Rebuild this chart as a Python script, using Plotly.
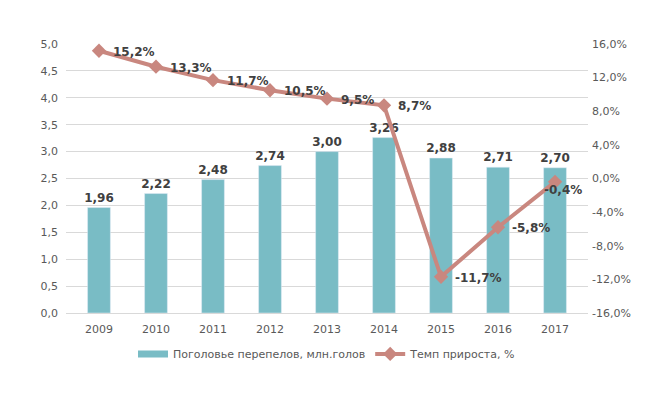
import plotly.graph_objects as go

years = ["2009", "2010", "2011", "2012", "2013", "2014", "2015", "2016", "2017"]
heads = [1.96, 2.22, 2.48, 2.74, 3.00, 3.26, 2.88, 2.71, 2.70]
growth = [15.2, 13.3, 11.7, 10.5, 9.5, 8.7, -11.7, -5.8, -0.4]
left_ticks = [0, 0.5, 1, 1.5, 2, 2.5, 3, 3.5, 4, 4.5, 5]
right_ticks = [-16, -12, -8, -4, 0, 4, 8, 12, 16]

def fmt(v, d):
    return f"{v:.{d}f}".replace(".", ",")

bar_text = [fmt(v, 2) for v in heads]
line_text = [fmt(v, 1) + "%" for v in growth]

BAR = "#79BCC5"
LINE = "#C9877F"
TXT = "#404040"
AX = "#595959"
FONT = "DejaVu Sans"
BAR_NAME = "Поголовье перепелов, млн.голов"

fig = go.Figure()
fig.add_trace(go.Bar(
    x=years, y=heads, name=BAR_NAME, showlegend=False, legendgroup="bars",
    marker_color=BAR, width=0.4,
    text=bar_text, textposition="outside", cliponaxis=False,
    constraintext="none",
    textfont=dict(family=FONT, size=12, color=TXT, weight="bold"),
))
# legend entry drawn as a wide swatch, like the original
fig.add_trace(go.Scatter(
    x=[None], y=[None], name=BAR_NAME, legendgroup="bars", mode="lines",
    line=dict(color=BAR, width=7), hoverinfo="skip",
))
fig.add_trace(go.Scatter(
    x=years, y=growth, name="Темп прироста, %", yaxis="y2",
    mode="lines+markers",
    line=dict(color=LINE, width=4),
    marker=dict(symbol="diamond", size=11, color=LINE),
    cliponaxis=False,
))

for i, (g, t) in enumerate(zip(growth, line_text)):
    last = i == len(years) - 1
    fig.add_annotation(
        x=i, y=g, xref="x", yref="y2", text=t, showarrow=False,
        xanchor="center" if last else "left", yanchor="middle",
        xshift=8 if last else 12, yshift=-8 if last else -1,
        font=dict(family=FONT, size=12, color=TXT, weight="bold"),
    )

fig.update_layout(
    width=661, height=398,
    margin=dict(l=66, r=73, t=44, b=85, autoexpand=False),
    paper_bgcolor="white", plot_bgcolor="white",
    font=dict(family=FONT, size=11, color=AX),
    showlegend=True,
    legend=dict(orientation="h", x=0.5, xanchor="center", y=-0.152, yanchor="middle",
                font=dict(family=FONT, size=11, color=AX),
                traceorder="normal"),
    xaxis=dict(type="category", showgrid=False, showline=True, linecolor="#D9D9D9",
               linewidth=1, ticks="", automargin=False, ticklabelstandoff=6,
               tickfont=dict(size=11, color=AX)),
    yaxis=dict(range=[0, 5], tickvals=left_ticks, automargin=False,
               ticktext=[fmt(v, 1) for v in left_ticks], ticklabelstandoff=7,
               showgrid=True, gridcolor="#D9D9D9", gridwidth=1, zeroline=False,
               showline=False, tickfont=dict(size=11, color=AX)),
    yaxis2=dict(range=[-16, 16], tickvals=right_ticks, automargin=False,
                ticktext=[fmt(v, 1) + "%" for v in right_ticks], ticklabelstandoff=3,
                overlaying="y", side="right", showgrid=False, zeroline=False,
                showline=False, tickfont=dict(size=11, color=AX)),
)

fig.write_html(
    "out.html",
    config={"displayModeBar": False},
    post_script="document.body.style.margin='0';document.body.style.overflow='hidden';",
)
